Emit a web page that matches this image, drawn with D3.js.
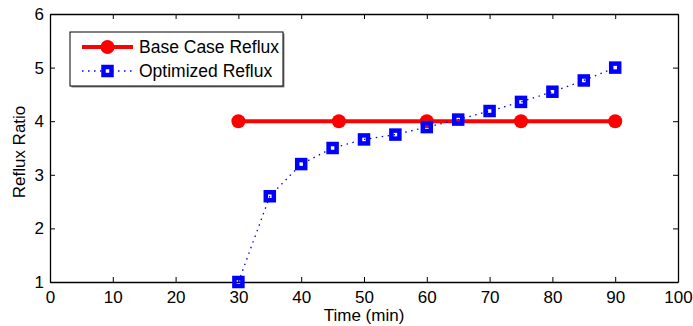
<!DOCTYPE html>
<html>
<head>
<meta charset="utf-8">
<script src="https://cdn.jsdelivr.net/npm/d3@7"></script>
<style>
  body { margin:0; background:#fff; }
  text { font-family: "Liberation Sans", Arial, sans-serif; fill:#000; }
</style>
</head>
<body>
<div id="chart"></div>
<script>
// data
const baseTime = [30, 46, 60, 75, 90];
const baseReflux = [4, 4, 4, 4, 4];
const optTime = [30, 35, 40, 45, 50, 55, 60, 65, 70, 75, 80, 85, 90];
const optReflux = [1, 2.6, 3.2, 3.5, 3.66, 3.75, 3.89, 4.03, 4.19, 4.36, 4.55, 4.76, 5.0];
const xTicks = [0, 10, 20, 30, 40, 50, 60, 70, 80, 90, 100];
const yTicks = [1, 2, 3, 4, 5, 6];
const seriesNames = ["Base Case Reflux", "Optimized Reflux"];

const W = 693, H = 326;
const margin = { top: 14, right: 15, bottom: 44, left: 50 };
const innerWidth = W - margin.left - margin.right;
const innerHeight = H - margin.top - margin.bottom;

const svg = d3.select("#chart").append("svg").attr("width", W).attr("height", H);
const chart = svg.append("g").attr("transform", `translate(${margin.left},${margin.top})`);

const x = d3.scaleLinear().domain([0, 100]).range([0, innerWidth]);
const y = d3.scaleLinear().domain([1, 6]).range([innerHeight, 0]);

// axes, ticks pointing inward on all four sides
const fs = "17px";
const axB = chart.append("g").attr("transform", `translate(0,${innerHeight})`)
  .call(d3.axisBottom(x).tickValues(xTicks).tickSize(-5).tickPadding(9).tickSizeOuter(0).tickFormat(d3.format("d")));
const axT = chart.append("g").call(d3.axisTop(x).tickValues(xTicks).tickSize(-5).tickFormat("").tickSizeOuter(0));
const axL = chart.append("g").call(d3.axisLeft(y).tickValues(yTicks).tickSize(-5).tickPadding(6).tickSizeOuter(0).tickFormat(d3.format("d")));
const axR = chart.append("g").attr("transform", `translate(${innerWidth},0)`)
  .call(d3.axisRight(y).tickValues(yTicks).tickSize(-5).tickFormat("").tickSizeOuter(0));
[axB, axT, axL, axR].forEach(a => {
  a.attr("font-size", null);
  a.select(".domain").attr("stroke", "#000").attr("stroke-width", 1.3);
  a.selectAll(".tick line").attr("stroke", "#000").attr("stroke-width", 1);
  a.selectAll("text").style("font-size", fs).attr("fill", "#000");
});

// axis labels
svg.append("text").attr("x", margin.left + x(50)).attr("y", 321)
  .attr("text-anchor", "middle").style("font-size", "17px").text("Time (min)");
svg.append("text").attr("transform", "translate(25,152) rotate(-90)")
  .attr("text-anchor", "middle").style("font-size", "17px").text("Reflux Ratio");

const red = "#ff0000", blue = "#0000ff";
const line = d3.line().x(d => x(d[0])).y(d => y(d[1]));

// base case: thick red line with filled circles
const baseData = baseTime.map((t, i) => [t, baseReflux[i]]);
chart.append("path").datum(baseData).attr("d", line)
  .attr("fill", "none").attr("stroke", red).attr("stroke-width", 4);
chart.selectAll("circle.base").data(baseData).enter().append("circle")
  .attr("class", "base").attr("cx", d => x(d[0])).attr("cy", d => y(d[1]))
  .attr("r", 7).attr("fill", red);

// optimized: dotted blue line with open squares
const optData = optTime.map((t, i) => [t, optReflux[i]]);
chart.append("path").datum(optData).attr("d", line)
  .attr("fill", "none").attr("stroke", blue).attr("stroke-width", 1.3)
  .attr("stroke-dasharray", "1.5,4.5");
chart.selectAll("rect.opt").data(optData).enter().append("rect")
  .attr("class", "opt")
  .attr("x", d => x(d[0]) - 4).attr("y", d => y(d[1]) - 4)
  .attr("width", 8).attr("height", 8)
  .attr("fill", "none").attr("stroke", blue).attr("stroke-width", 4.5);

// legend
const lg = svg.append("g").attr("transform", "translate(70,32)");
lg.append("rect").attr("x", 1.5).attr("y", 1.5).attr("width", 213).attr("height", 54).attr("fill", "#888");
lg.append("rect").attr("x", 0).attr("y", 0).attr("width", 213).attr("height", 54)
  .attr("fill", "#fff").attr("stroke", "#000").attr("stroke-width", 1);
// entry 1
lg.append("line").attr("x1", 12).attr("x2", 63).attr("y1", 15).attr("y2", 15)
  .attr("stroke", red).attr("stroke-width", 4);
lg.append("circle").attr("cx", 37.5).attr("cy", 15).attr("r", 7).attr("fill", red);
lg.append("text").attr("x", 69).attr("y", 21).style("font-size", "17.5px").text(seriesNames[0]);
// entry 2
lg.append("line").attr("x1", 12).attr("x2", 63).attr("y1", 39).attr("y2", 39)
  .attr("stroke", blue).attr("stroke-width", 1.3).attr("stroke-dasharray", "1.5,4.5");
lg.append("rect").attr("x", 33.5).attr("y", 35).attr("width", 8).attr("height", 8)
  .attr("fill", "#fff").attr("stroke", blue).attr("stroke-width", 4.5);
lg.append("text").attr("x", 69).attr("y", 45).style("font-size", "17.5px").text(seriesNames[1]);
</script>
</body>
</html>
